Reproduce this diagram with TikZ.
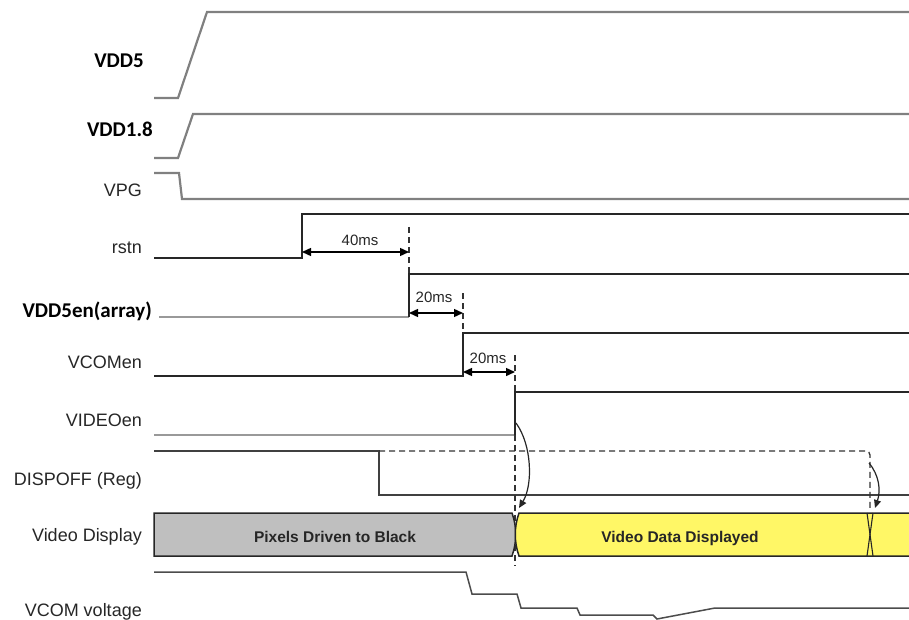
\documentclass[tikz,border=0pt]{standalone}
\usepackage{fontspec}
\setmainfont{Liberation Sans}
\newfontfamily\calibri{Carlito}
\usetikzlibrary{arrows.meta}

\begin{document}
\begin{tikzpicture}[x=1pt, y=-1pt,
        pwr/.style = {draw=black!50, line width=2.2pt},
        sig/.style = {draw=black!85, line width=1.4pt},
        lowline/.style = {draw=black!40, line width=2.6pt},
        guide/.style = {draw=black!80, line width=1.3pt, dash pattern=on 6pt off 4pt},
        gap/.style = {draw=black, line width=1.4pt,
            {Triangle[length=9pt,width=8pt]}-{Triangle[length=9pt,width=8pt]}},
        handover/.style = {draw=black!85, line width=1.2pt, -{Triangle[length=8pt,width=7pt]}},
        sname/.style = {anchor=base east, inner sep=0pt, text=black!85,
            font=\fontsize{18}{20}\selectfont},
        bname/.style = {anchor=base east, inner sep=0pt,
            font=\calibri\bfseries\fontsize{21}{24}\selectfont},
        ms/.style = {anchor=base, inner sep=0pt, text=black!85,
            font=\fontsize{15}{17}\selectfont},
        bartext/.style = {anchor=base, inner sep=0pt, text=black!85,
            font=\bfseries\fontsize{15.5}{18}\selectfont},
        bar/.style = {draw=black!85, line width=1.5pt}
        ]

    \useasboundingbox (0,0) rectangle (909,620);

    % Signal names
    \node[bname] (vdd5) at (144,68) {VDD5};
    \node[bname] (vdd18) at (153,137) {VDD1.8};
    \node[sname] (vpg) at (142,197) {VPG};
    \node[sname] (rstn) at (142,253) {rstn};
    \node[bname] (vdd5en) at (152,317) {VDD5en(array)};
    \node[sname] (vcomen) at (142,368) {VCOMen};
    \node[sname] (videoen) at (142,426) {VIDEOen};
    \node[sname] (dispoff) at (142,485) {DISPOFF (Reg)};
    \node[sname] (vdisp) at (142,541) {Video Display};
    \node[sname] (vcomv) at (142,616) {VCOM voltage};

    % Supplies
    \draw[pwr] (154,98) -- (178,98) -- (207,12) -- (909,12);
    \draw[pwr] (154,158) -- (178,158) -- (193,114) -- (909,114);
    \draw[pwr] (154,173) -- (179,173) -- (182,199) -- (909,199);

    % Enables
    \draw[sig] (154,258) -- (302,258) -- (302,214) -- (909,214);
    \draw[lowline] (159,317) -- (409,317);
    \draw[sig] (409,317) -- (409,274) -- (909,274);
    \draw[sig] (154,376) -- (463,376) -- (463,333) -- (909,333);
    \draw[lowline, line width=2pt] (154,435) -- (515,435);
    \draw[sig] (515,435) -- (515,392) -- (909,392);
    \draw[sig, draw=black!75] (154,451) -- (379,451) -- (379,495) -- (909,495);

    % Guide lines
    \draw[guide] (409,227) -- (409,274);
    \draw[guide] (463,293) -- (463,333);
    \draw[guide] (515,355) -- (515,392);
    \draw[guide] (515,435) -- (515,566);
    \draw[guide, rounded corners=4pt] (379,451) -- (870,451) -- (870,508);

    % Delays
    \coordinate (rsthi) at (302,252);
    \coordinate (en5hi) at (409,252);
    \coordinate (en5a) at (409,313);
    \coordinate (comhi) at (463,313);
    \coordinate (comb) at (463,372);
    \coordinate (vidhi) at (515,372);
    \draw[gap] (rsthi) -- (en5hi);
    \draw[gap] (en5a) -- (comhi);
    \draw[gap] (comb) -- (vidhi);
    \node[ms] (d40) at (360,245) {40ms};
    \node[ms] (d20a) at (434,302) {20ms};
    \node[ms] (d20b) at (488,363) {20ms};

    % Video display bar
    \filldraw[bar, fill=black!25] (154,513) -- (512,513)
        .. controls (517,527) and (517,542) .. (512,556) -- (154,556) -- cycle;
    \fill[yellow!60] (519,513) .. controls (514,527) and (514,542) .. (519,556)
        -- (909,556) -- (909,513) -- cycle;
    \draw[bar] (909,513) -- (519,513) .. controls (514,527) and (514,542) .. (519,556)
        -- (909,556);
    \draw[bar, line width=1.1pt] (867,513) -- (873,556);
    \draw[bar, line width=1.1pt] (873,513) -- (867,556);
    \node[bartext] (blk) at (335,542) {Pixels Driven to Black};
    \node[bartext] (dat) at (680,542) {Video Data Displayed};

    % Hand-over arrows
    \draw[handover] (516,423) .. controls (532,445) and (533,485) .. (519,508);
    \draw[handover] (869,463) .. controls (879,475) and (881,490) .. (875,508);

    % VCOM voltage
    \draw[sig, draw=black!70, line width=1.5pt] (154,572) -- (466,572) -- (472,594)
        -- (517,594) -- (521,608) -- (577,608) -- (580,615) -- (653,615)
        -- (657,619) -- (715,608) -- (909,608);

\end{tikzpicture}
\end{document}
